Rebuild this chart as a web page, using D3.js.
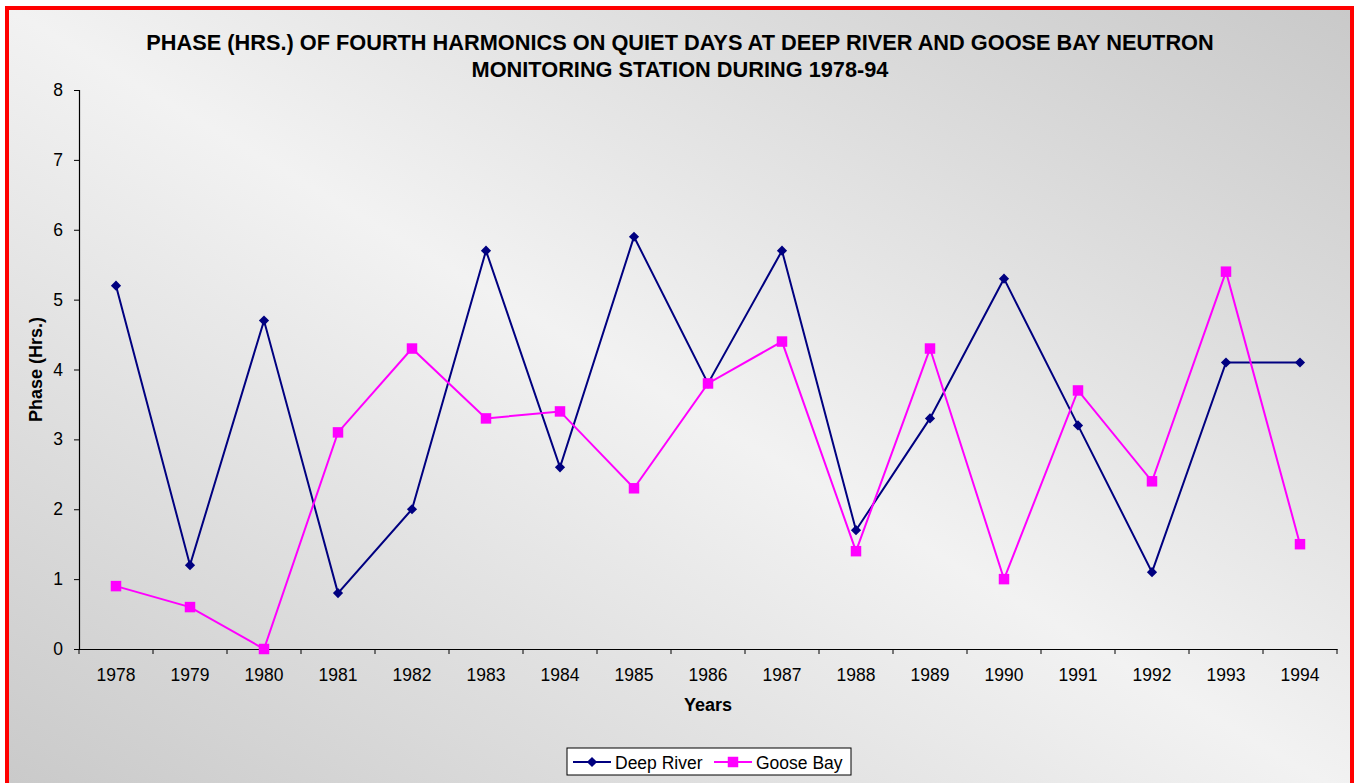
<!DOCTYPE html>
<html>
<head>
<meta charset="utf-8">
<script src="https://cdn.jsdelivr.net/npm/d3@7"></script>
<style>
  html, body { margin: 0; padding: 0; background: #fff; }
  svg { display: block; font-family: Arial, "Liberation Sans", sans-serif; }
</style>
</head>
<body>
<div id="chart"></div>
<script>
// Years on the category axis
const years = ['1978', '1979', '1980', '1981', '1982', '1983', '1984', '1985', '1986',
  '1987', '1988', '1989', '1990', '1991', '1992', '1993', '1994'];

// Phase (hrs.)
const deepRiver = [5.2, 1.2, 4.7, 0.8, 2.0, 5.7, 2.6, 5.9, 3.8, 5.7, 1.7, 3.3, 5.3, 3.2, 1.1, 4.1, 4.1];
const gooseBay = [0.9, 0.6, 0.0, 3.1, 4.3, 3.3, 3.4, 2.3, 3.8, 4.4, 1.4, 4.3, 1.0, 3.7, 2.4, 5.4, 1.5];

const yTicks = [0, 1, 2, 3, 4, 5, 6, 7, 8];

const titleLines = [
  'PHASE (HRS.) OF FOURTH HARMONICS ON QUIET DAYS AT DEEP RIVER AND GOOSE BAY NEUTRON',
  'MONITORING STATION DURING 1978-94',
];

// diamond = square turned 45 degrees, as in the spreadsheet marker
const series = [
  { name: 'Deep River', values: deepRiver, color: '#000080', size: 52, rotate: 45 },
  { name: 'Goose Bay', values: gooseBay, color: '#ff00ff', size: 110, rotate: 0 },
];

const width = 1360;
const height = 783;
const margin = { left: 79, right: 23, top: 90, bottom: 134 };

const svg = d3.select('#chart')
  .append('svg')
  .attr('width', width)
  .attr('height', height);

// background gradient: dark corners top-right / bottom-left, light diagonal
const grad = svg.append('defs')
  .append('linearGradient')
  .attr('id', 'bg')
  .attr('x1', 0).attr('y1', 1)
  .attr('x2', 1).attr('y2', 0);
grad.append('stop').attr('offset', '0%').attr('stop-color', '#c9c9c9');
grad.append('stop').attr('offset', '50%').attr('stop-color', '#f2f2f2');
grad.append('stop').attr('offset', '100%').attr('stop-color', '#c9c9c9');

svg.append('rect')
  .attr('x', 7).attr('y', 8)
  .attr('width', 1345).attr('height', 790)
  .attr('fill', 'url(#bg)')
  .attr('stroke', '#ff0000')
  .attr('stroke-width', 4);

const x = d3.scaleBand()
  .domain(years)
  .range([margin.left, width - margin.right]);

const y = d3.scaleLinear()
  .domain([0, 8])
  .range([height - margin.bottom, margin.top]);

// title
svg.append('g')
  .selectAll('text')
  .data(titleLines)
  .enter()
  .append('text')
  .attr('x', 680)
  .attr('y', (d, i) => 49.5 + i * 27.5)
  .attr('text-anchor', 'middle')
  .style('font-size', '21.75px')
  .style('font-weight', 'bold')
  .text((d) => d);

// y axis
const yAxis = svg.append('g')
  .attr('transform', `translate(${margin.left},0)`)
  .call(d3.axisLeft(y).tickValues(yTicks).tickSize(5).tickPadding(11));

// x axis, ticks between categories
const xAxis = svg.append('g')
  .attr('transform', `translate(0,${y(0)})`)
  .call(d3.axisBottom(x).tickSize(0).tickPadding(19.5));

xAxis.selectAll('.between')
  .data(years.concat(['end']))
  .enter()
  .append('line')
  .attr('class', 'between')
  .attr('x1', (d, i) => margin.left + i * x.step())
  .attr('x2', (d, i) => margin.left + i * x.step())
  .attr('y1', 0)
  .attr('y2', 5)
  .attr('stroke', '#000');

[yAxis, xAxis].forEach((ax) => {
  ax.select('.domain').attr('stroke', '#000').attr('stroke-width', 1.2);
  ax.selectAll('text')
    .attr('fill', '#000')
    .style('font-size', '17.5px')
    .style('font-family', 'Arial, "Liberation Sans", sans-serif');
});

// axis titles
svg.append('text')
  .attr('x', (margin.left + width - margin.right) / 2)
  .attr('y', 711)
  .attr('text-anchor', 'middle')
  .style('font-size', '18px')
  .style('font-weight', 'bold')
  .text('Years');

svg.append('text')
  .attr('transform', `translate(42,${(y(0) + y(8)) / 2}) rotate(-90)`)
  .attr('text-anchor', 'middle')
  .style('font-size', '18px')
  .style('font-weight', 'bold')
  .text('Phase (Hrs.)');

// lines and markers
const line = d3.line()
  .x((d, i) => x(years[i]) + x.bandwidth() / 2)
  .y((d) => y(d));

series.forEach((s) => {
  const g = svg.append('g');
  g.append('path')
    .attr('d', line(s.values))
    .attr('fill', 'none')
    .attr('stroke', s.color)
    .attr('stroke-width', 2);

  g.selectAll('path.marker')
    .data(s.values)
    .enter()
    .append('path')
    .attr('class', 'marker')
    .attr('transform', (d, i) =>
      `translate(${x(years[i]) + x.bandwidth() / 2},${y(d)}) rotate(${s.rotate})`)
    .attr('d', d3.symbol().type(d3.symbolSquare).size(s.size))
    .attr('fill', s.color);
});

// legend
const legend = svg.append('g').attr('transform', 'translate(567,748)');
legend.append('rect')
  .attr('width', 284)
  .attr('height', 27)
  .attr('fill', '#fff')
  .attr('stroke', '#000')
  .attr('stroke-width', 1);

const items = legend.selectAll('g.item')
  .data(series)
  .enter()
  .append('g')
  .attr('class', 'item')
  .attr('transform', (d, i) => `translate(${6 + i * 141},14)`);

items.append('line')
  .attr('x1', 0).attr('x2', 38)
  .attr('stroke', (d) => d.color)
  .attr('stroke-width', 2);

items.append('path')
  .attr('transform', (d) => `translate(19,0) rotate(${d.rotate})`)
  .attr('d', (d) => d3.symbol().type(d3.symbolSquare).size(d.size)())
  .attr('fill', (d) => d.color);

items.append('text')
  .attr('x', 42)
  .attr('y', 6.5)
  .style('font-size', '17.5px')
  .text((d) => d.name);
</script>
</body>
</html>
